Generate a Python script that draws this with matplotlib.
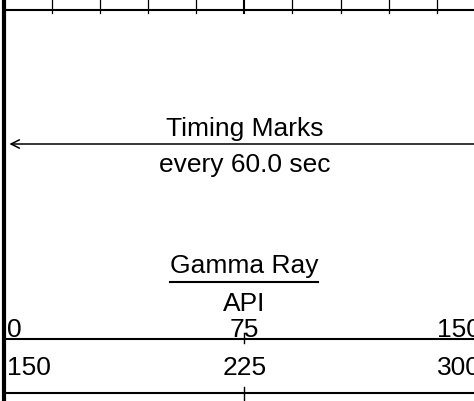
import matplotlib
matplotlib.use("Agg")
import matplotlib.pyplot as plt
import numpy as np

plt.rcParams['font.family'] = ['Liberation Sans', 'DejaVu Sans']

# track scale (API) and the two wrap-around label rows
track_left = 0
track_right = 150
grid_vals = [15, 30, 45, 60, 75, 90, 105, 120, 135]
row1_labels = ["0", "75", "150"]
row2_labels = ["150", "225", "300"]
curve_name = "Gamma Ray"
curve_unit = "API"
timing_text = ["Timing Marks", "every 60.0 sec"]

fig = plt.figure(figsize=(4.74, 4.02), dpi=100)
ax = fig.add_axes([0, 0, 1, 1])
ax.set_xlim(-1.12, 146.6)
ax.set_ylim(402, 0)   # header laid out top-down in pixels
ax.axis('off')

mid = (track_left + track_right) / 2
fs = 19

# left border of track
ax.axvline(track_left, color='black', lw=3)

# grid of the track just above the header
top_y = 10.7
for g in grid_vals:
    ax.plot([g, g], [0, 14], color='black', lw=1.5 if g == mid else 0.9)
ax.plot([track_left, track_right], [top_y, top_y], color='black', lw=1.5)

# timing marks
ax.text(mid, 136, timing_text[0], ha='center', va='baseline', fontsize=fs)
ax.annotate('', xy=(1.8, 145), xytext=(track_right, 145),
            arrowprops=dict(arrowstyle='->', lw=1.1, color='black',
                            mutation_scale=15, shrinkA=0, shrinkB=0))
ax.text(mid, 172, timing_text[1], ha='center', va='baseline', fontsize=fs)

# curve name, underline, unit
ax.text(mid, 273, curve_name, ha='center', va='baseline', fontsize=fs)
ax.plot([52, 98], [283, 283], color='black', lw=1.5)
ax.text(mid, 311, curve_unit, ha='center', va='baseline', fontsize=fs)

# scale rows: (labels, text baseline, line below, tick span)
rows = [(row1_labels, 337, 340, (-6, 4)), (row2_labels, 375, 394, (-6, 10))]
for labels, base_y, line_y, (t0, t1) in rows:
    ax.text(track_left + 1.0, base_y, labels[0], ha='left', va='baseline', fontsize=fs)
    ax.text(mid, base_y, labels[1], ha='center', va='baseline', fontsize=fs)
    ax.text(track_right - 1.2, base_y, labels[2], ha='right', va='baseline', fontsize=fs)
    ax.plot([track_left, track_right], [line_y, line_y], color='black', lw=1.5)
    ax.plot([mid, mid], [line_y + t0, line_y + t1], color='black', lw=1.0)

fig.savefig("out.png", dpi=100)
